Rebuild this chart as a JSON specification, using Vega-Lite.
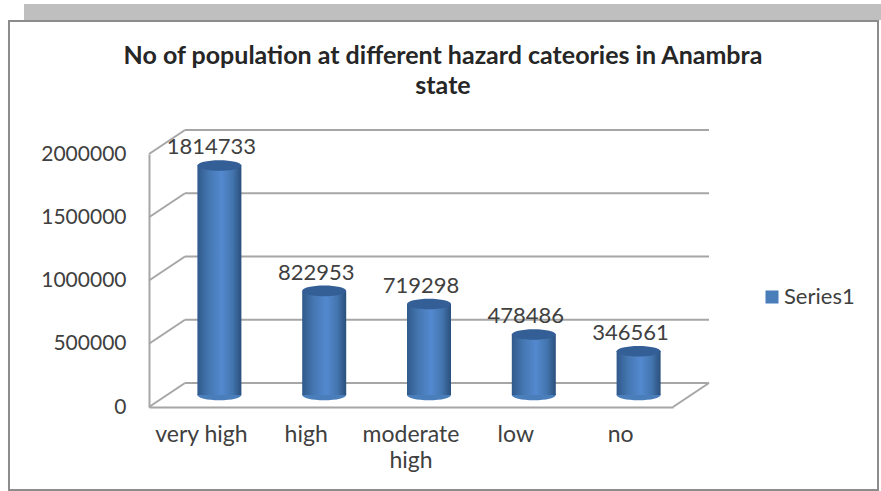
{
"$schema":"https://vega.github.io/schema/vega-lite/v6.json",
"width":524,"height":253,
"autosize":{"type":"none"},
"padding":{"left":149,"top":154,"right":208,"bottom":84},
"background":"white",
"title":{"text":["No of population at different hazard cateories in Anambra","state"],"font":"Lato","fontSize":25,"fontWeight":"bold","color":"#262626","lineHeight":30,"anchor":"middle","frame":"group","dx":32,"offset":-95},
"config":{"view":{"stroke":null}},
"datasets":{
"pop":[
{"category":"very high","population":1814733,"series":"Series1"},
{"category":"high","population":822953,"series":"Series1"},
{"category":"moderate high","population":719298,"series":"Series1"},
{"category":"low","population":478486,"series":"Series1"},
{"category":"no","population":346561,"series":"Series1"}],
"grid":[{"v":0},{"v":500000},{"v":1000000},{"v":1500000},{"v":2000000}],
"one":[{"n":1}]
},
"resolve":{"scale":{"x":"independent"}},
"layer":[
{"data":{"name":"one"},"mark":{"type":"rect","fill":"#bfbfbf"},"encoding":{
"x":{"datum":-0.2385,"type":"quantitative","axis":null,"scale":{"domain":[0,1],"nice":false,"zero":false}},
"x2":{"datum":1.3969},
"y":{"datum":3185771,"type":"quantitative","title":null,"scale":{"domain":[0,2000000],"nice":false}},
"y2":{"datum":3059289}}},
{"data":{"name":"one"},"mark":{"type":"rect","fill":"white","stroke":"#8c8c8c","strokeWidth":2},"encoding":{
"x":{"datum":-0.2672,"type":"quantitative","axis":null,"scale":{"domain":[0,1],"nice":false,"zero":false}},
"x2":{"datum":1.3912},
"y":{"datum":3051383,"type":"quantitative","title":null,"scale":{"domain":[0,2000000],"nice":false}},
"y2":{"datum":-656126}}},
{"data":{"name":"grid"},"mark":{"type":"rule","color":"#a6a6a6","strokeWidth":2,"xOffset":36,"x2Offset":36,"yOffset":-24,"y2Offset":-24},"encoding":{
"x":{"datum":0,"type":"quantitative","axis":null,"scale":{"domain":[0,1],"nice":false,"zero":false}},
"x2":{"datum":1},
"y":{"field":"v","type":"quantitative","title":null,"scale":{"domain":[0,2000000],"nice":false}},
"y2":{"field":"v"}}},
{"data":{"name":"grid"},"mark":{"type":"rule","color":"#a6a6a6","strokeWidth":2,"x2Offset":36,"y2Offset":-24},"encoding":{
"x":{"datum":0,"type":"quantitative","axis":null,"scale":{"domain":[0,1],"nice":false,"zero":false}},
"x2":{"datum":0},
"y":{"field":"v","type":"quantitative","title":null,"scale":{"domain":[0,2000000],"nice":false}},
"y2":{"field":"v"}}},
{"data":{"name":"one"},"mark":{"type":"rule","color":"#a6a6a6","strokeWidth":2,"x2Offset":36,"y2Offset":-24},"encoding":{
"x":{"datum":1,"type":"quantitative","axis":null,"scale":{"domain":[0,1],"nice":false,"zero":false}},
"x2":{"datum":1},
"y":{"datum":0,"type":"quantitative","title":null,"scale":{"domain":[0,2000000],"nice":false}},
"y2":{"datum":0}}},
{"data":{"name":"pop"},"mark":{"type":"point","filled":true,"opacity":1,"size":1936,"xOffset":18,"yOffset":-12,"shape":"M-1,0A1,0.24,0,0,0,1,0A1,0.24,0,0,0,-1,0Z"},"encoding":{
"x":{"field":"category","type":"nominal","sort":null,"axis":null,"scale":{"paddingInner":0,"paddingOuter":0}},
"y":{"datum":0,"type":"quantitative","title":null,"scale":{"domain":[0,2000000],"nice":false}},
"color":{"field":"series","type":"nominal","scale":{"range":["#4a7ebb"]},
"legend":{"title":null,"orient":"none","legendX":612,"legendY":132,"symbolType":"square","symbolSize":170,"symbolOpacity":1,"labelFont":"Lato","labelFontSize":22,"labelColor":"#404040","labelOffset":1}}}},
{"data":{"name":"pop"},"mark":{"type":"bar","size":44,"xOffset":18,"yOffset":-12,"y2Offset":-12,"fill":{"gradient":"linear","x1":0,"y1":0,"x2":1,"y2":0,"stops":[{"offset":0,"color":"#30598b"},{"offset":0.25,"color":"#4476b0"},{"offset":0.55,"color":"#5389cf"},{"offset":0.8,"color":"#4375ae"},{"offset":1,"color":"#2a4f7c"}]}},"encoding":{
"x":{"field":"category","type":"nominal","sort":null,"title":null,"scale":{"paddingInner":0,"paddingOuter":0},
"axis":{"zindex":1,"labelAngle":0,"labelFont":"Lato","labelFontSize":23,"labelColor":"#404040","labelPadding":16,"ticks":false,"domainColor":"#a6a6a6","domainWidth":2,"labelLineHeight":26,"labelExpr":"datum.value=='moderate high'?['moderate','high']:datum.label"}},
"y":{"field":"population","type":"quantitative","title":null,"scale":{"domain":[0,2000000],"nice":false},
"axis":{"zindex":1,"values":[0,500000,1000000,1500000,2000000],"format":"d","grid":false,"ticks":false,"labelFont":"Lato","labelFontSize":21,"labelColor":"#404040","labelPadding":23,"domainColor":"#a6a6a6","domainWidth":2}}}},
{"data":{"name":"pop"},"mark":{"type":"point","filled":true,"opacity":1,"size":1936,"xOffset":18,"yOffset":-12,"color":"#345f96","shape":"M-1,0A1,0.24,0,0,0,1,0A1,0.24,0,0,0,-1,0Z"},"encoding":{
"x":{"field":"category","type":"nominal","sort":null,"axis":null,"scale":{"paddingInner":0,"paddingOuter":0}},
"y":{"field":"population","type":"quantitative","title":null,"scale":{"domain":[0,2000000],"nice":false}}}},
{"data":{"name":"pop"},"mark":{"type":"text","font":"Lato","fontSize":22,"color":"#404040","dx":10,"dy":-23,"baseline":"alphabetic"},"encoding":{
"x":{"field":"category","type":"nominal","sort":null,"axis":null,"scale":{"paddingInner":0,"paddingOuter":0}},
"y":{"field":"population","type":"quantitative","title":null,"scale":{"domain":[0,2000000],"nice":false}},
"text":{"field":"population","type":"quantitative","format":"d"}}}
]
}
